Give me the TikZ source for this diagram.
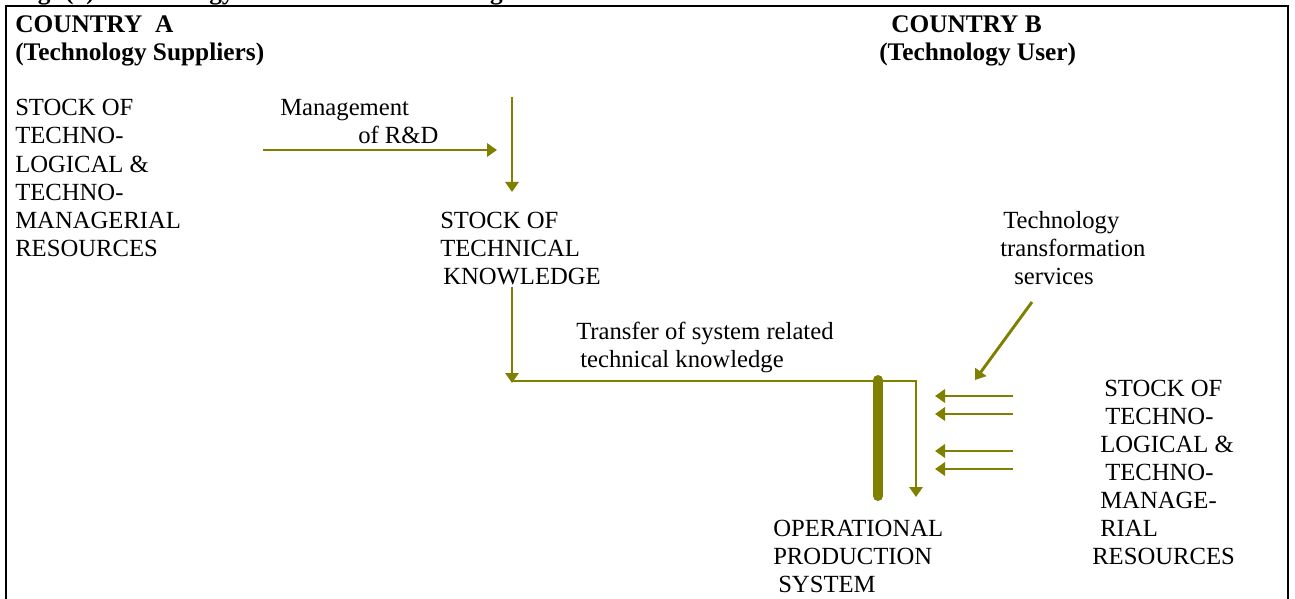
\documentclass[tikz,border=0pt]{standalone}
\usepackage{fontspec}
\setmainfont{Liberation Serif}
\usetikzlibrary{arrows.meta}
\definecolor{arrowolive}{HTML}{808000}
\begin{document}
\begin{tikzpicture}[x=0.75pt,y=-0.75pt,
  txt/.style={anchor=base west, inner sep=0pt, font=\fontsize{18.5}{21}\selectfont},
  btxt/.style={anchor=base west, inner sep=0pt, font=\fontsize{19}{21}\selectfont\bfseries},
  tip/.style={-{Triangle[length=7.5pt,width=10pt]}},
  conn/.style={draw=arrowolive, line width=2.2pt, tip},
  thinconn/.style={draw=arrowolive, line width=1.5pt},
  frame/.style={draw=black, line width=2.2pt}]
\useasboundingbox (0,0) rectangle (1295,599);
\clip (0,0) rectangle (1295,599);

% cropped title
\node[btxt] (title) at (15,0) {Fig. (3): Technology Transfer Model -- Background};

% frame (open at bottom)
\coordinate (fbl) at (6,610);
\coordinate (ftl) at (6,6);
\coordinate (ftr) at (1288,6);
\coordinate (fbr) at (1288,610);
\draw[frame] (fbl) -- (ftl) -- (ftr) -- (fbr);

% headings
\node[btxt] (ca1) at (15,33) {COUNTRY\ \ A};
\node[btxt] (ca2) at (15,61) {(Technology Suppliers)};
\node[btxt] (cb1) at (891,33) {COUNTRY B};
\node[btxt] (cb2) at (879,61) {(Technology User)};

% left resources
\node[txt] (l1) at (15,116) {STOCK OF};
\node[txt] (l2) at (15,144) {TECHNO-};
\node[txt] (l3) at (15,172) {LOGICAL \&};
\node[txt] (l4) at (15,200) {TECHNO-};
\node[txt] (l5) at (15,228) {MANAGERIAL};
\node[txt] (l6) at (15,256) {RESOURCES};

% management of R&D
\node[txt] (m1) at (280,116) {Management};
\node[txt] (m2) at (358,144) {of R\&D};

% stock of technical knowledge
\node[txt] (k1) at (440,228) {STOCK OF};
\node[txt] (k2) at (440,256) {TECHNICAL};
\node[txt] (k3) at (443,284) {KNOWLEDGE};

% technology transformation services
\node[txt] (t1) at (1003,228) {Technology};
\node[txt] (t2) at (1000,256) {transformation};
\node[txt] (t3) at (1014,284) {services};

% transfer label
\node[txt] (s1) at (576,339) {Transfer of system related};
\node[txt] (s2) at (580,367) {technical knowledge};

% right resources
\node[txt] (r1) at (1104,396) {STOCK OF};
\node[txt] (r2) at (1105,424) {TECHNO-};
\node[txt] (r3) at (1100,452) {LOGICAL \&};
\node[txt] (r4) at (1105,480) {TECHNO-};
\node[txt] (r5) at (1100,508) {MANAGE-};
\node[txt] (r6) at (1100,536) {RIAL};
\node[txt] (r7) at (1092,564) {RESOURCES};

% operational production system
\node[txt] (o1) at (773,536) {OPERATIONAL};
\node[txt] (o2) at (773,564) {PRODUCTION};
\node[txt] (o3) at (778,592) {SYSTEM};

% connectors
\coordinate (rdS) at (263,150);
\coordinate (rdE) at (497,150);
\draw[conn] (rdS) -- (rdE);

\coordinate (skS) at (512,97);
\coordinate (skE) at (512,192);
\draw[thinconn, tip] (skS) -- (skE);

\coordinate (kS) at (512,287);
\coordinate (kE) at (512,383);
\draw[thinconn, tip] (kS) -- (kE);

\coordinate (hS) at (512,381);
\coordinate (hC) at (916,381);
\coordinate (hE) at (916,497);
\draw[thinconn, tip] (hS) -- (hC) -- (hE);

\coordinate (barT) at (878,380);
\coordinate (barB) at (878,496);
\draw[draw=arrowolive, line width=7.5pt, line cap=round] (barT) -- (barB);

\foreach \yy [count=\i] in {396,414,451,469}{
  \coordinate (in\i S) at (1013,\yy);
  \coordinate (in\i E) at (935,\yy);
  \draw[conn] (in\i S) -- (in\i E);
}

\coordinate (dS) at (1032,302);
\coordinate (dE) at (975,380);
\draw[conn] (dS) -- (dE);
\end{tikzpicture}
\end{document}
